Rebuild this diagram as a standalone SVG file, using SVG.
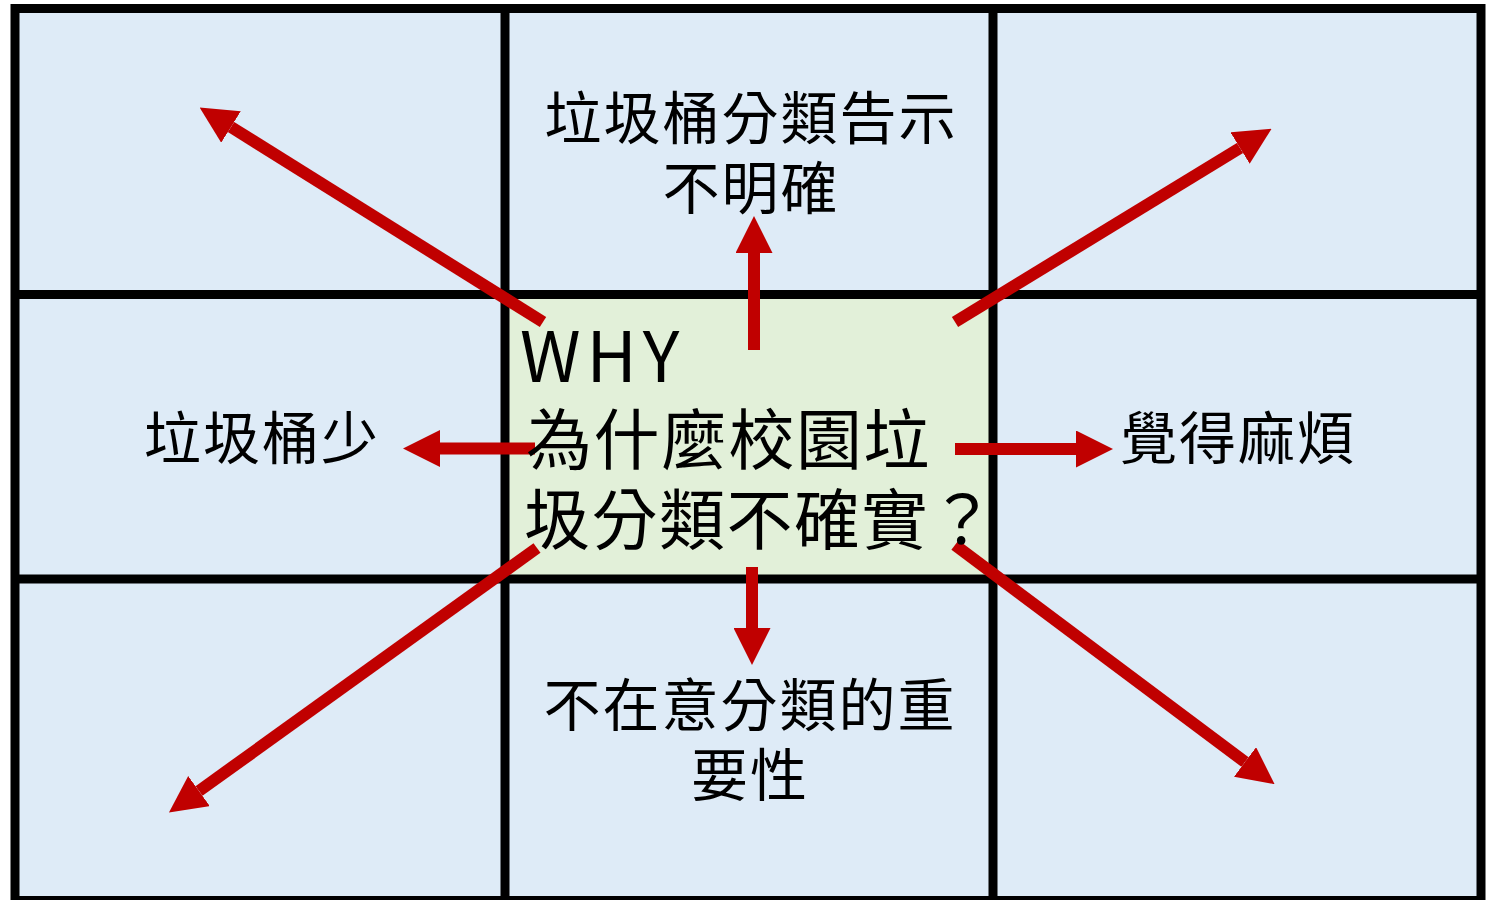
<svg xmlns="http://www.w3.org/2000/svg" width="1493" height="900" viewBox="0 0 1493 900">
<style>
.cell{fill:#DEEBF7;}
.center{fill:#E2F0D9;}
.grid{stroke:#000;stroke-width:9;fill:none;}
.lbl{font-family:"Noto Sans CJK TC","Noto Sans CJK SC",sans-serif;font-size:57px;letter-spacing:2px;fill:#000;text-anchor:middle;}
.ctr{font-family:"Noto Sans CJK TC","Noto Sans CJK SC",sans-serif;font-size:66px;letter-spacing:1.5px;fill:#000;}
.why{font-family:"Noto Sans CJK TC","Noto Sans CJK SC",sans-serif;font-size:69px;letter-spacing:6px;fill:#000;}
.arr{stroke:#C00000;stroke-width:12;fill:none;marker-end:url(#ah);}
</style>
<defs>
<marker id="ah" markerUnits="userSpaceOnUse" markerWidth="37" markerHeight="37" viewBox="0 0 37 37" refX="0" refY="18.5" orient="auto">
<path d="M0,0 L37,18.5 L0,37 Z" fill="#C00000"/>
</marker>
</defs>
<rect width="1493" height="900" fill="#fff"/>
<rect class="cell" x="15" y="8" width="1466" height="892"/>
<g id="center-node">
<rect class="center" x="505" y="294" width="488" height="285"/>
</g>
<g id="grid">
<rect class="grid" x="15" y="8.5" width="1466" height="892"/>
<line class="grid" x1="505" y1="8" x2="505" y2="900"/>
<line class="grid" x1="993" y1="8" x2="993" y2="900"/>
<line class="grid" x1="15" y1="294.5" x2="1481" y2="294.5"/>
<line class="grid" x1="15" y1="579" x2="1481" y2="579"/>
</g>
<g id="connectors">
<line class="arr" x1="543" y1="322" x2="231" y2="127"/>
<line class="arr" x1="955" y1="322" x2="1240" y2="148"/>
<line class="arr" x1="537" y1="548" x2="199" y2="791"/>
<line class="arr" x1="955" y1="545" x2="1245" y2="762"/>
<line class="arr" x1="535" y1="448.5" x2="440" y2="448.5"/>
<line class="arr" x1="754" y1="350" x2="754" y2="253"/>
<line class="arr" x1="955" y1="449" x2="1076" y2="449"/>
<line class="arr" x1="752" y1="567" x2="752" y2="628"/>
</g>
<g id="node-top">
<text class="lbl" x="751" y="139">垃圾桶分類告示</text>
<text class="lbl" x="751" y="209">不明確</text>
</g>
<g id="node-left">
<text class="lbl" x="262" y="459">垃圾桶少</text>
</g>
<g id="node-right">
<text class="lbl" x="1238" y="459">覺得麻煩</text>
</g>
<g id="node-bottom">
<text class="lbl" x="750" y="726">不在意分類的重</text>
<text class="lbl" x="750" y="796">要性</text>
</g>
<g id="node-center">
<text class="why" x="520" y="382">WHY</text>
<text class="ctr" x="526" y="464">為什麼校園垃</text>
<text class="ctr" x="524" y="544">圾分類不確實？</text>
</g>
</svg>
